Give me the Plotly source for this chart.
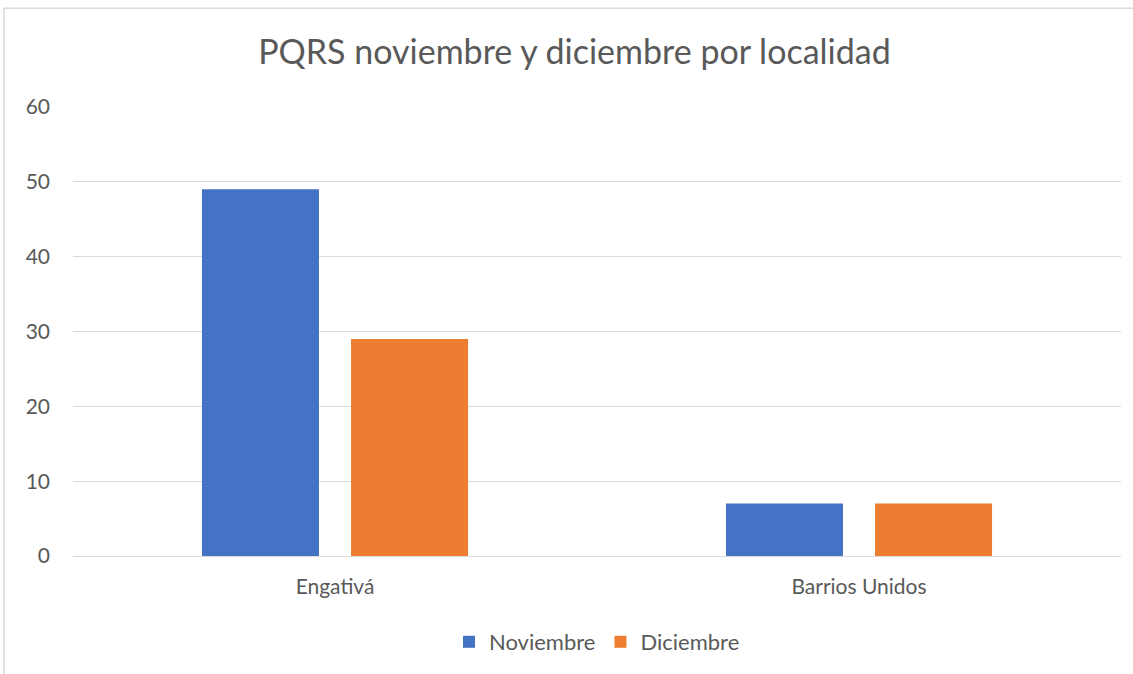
import plotly.graph_objects as go

# data
localidades = ["Engativá", "Barrios Unidos"]
noviembre = [49, 7]
diciembre = [29, 7]
y_ticks = [0, 10, 20, 30, 40, 50, 60]

BLUE = "#4472C4"
ORANGE = "#ED7D31"
TEXT = "#595959"
FONT = "Lato, Calibri, sans-serif"

W, H = 1133, 674
L, R, T, B = 73, 12, 107, 117
pw, ph = W - L - R, H - T - B

fig = go.Figure()
fig.add_trace(go.Bar(x=localidades, y=noviembre, name="Noviembre",
                     marker=dict(color=BLUE, line_width=0)))
fig.add_trace(go.Bar(x=localidades, y=diciembre, name="Diciembre",
                     marker=dict(color=ORANGE, line_width=0)))

# light frame around the chart area (left and top edges visible)
fig.add_shape(type="rect", xref="paper", yref="paper",
              x0=(4 - L) / pw, x1=(1160 - L) / pw,
              y0=-2, y1=(H - B - 8) / ph,
              line=dict(color="#D9D9D9", width=1.5), layer="below")

fig.update_layout(
    width=W, height=H,
    margin=dict(l=L, r=R, t=T, b=B),
    paper_bgcolor="white", plot_bgcolor="white",
    font=dict(family=FONT, size=21, color=TEXT),
    title=dict(text="PQRS noviembre y diciembre por localidad",
               x=0.507, xanchor="center", y=1 - 52 / H, yanchor="middle",
               font=dict(size=34, color=TEXT)),
    barmode="group", bargap=0.431, bargroupgap=0.215,
    showlegend=True,
    legend=dict(orientation="h", x=0.5, xanchor="center",
                y=-(642 - (H - B)) / ph, yanchor="middle",
                font=dict(size=22, color=TEXT), itemwidth=30),
)
fig.update_xaxes(showgrid=False, showline=False, ticks="",
                 ticklabelstandoff=16,
                 tickfont=dict(size=21, color=TEXT))
fig.update_yaxes(range=[0, 60], tickvals=y_ticks, showgrid=True,
                 gridcolor="#D9D9D9", gridwidth=1.3, zeroline=True,
                 zerolinecolor="#D9D9D9", zerolinewidth=1.3,
                 ticks="", ticklabelstandoff=22,
                 tickfont=dict(size=21, color=TEXT))

fig.write_html("out.html", config={"displayModeBar": False},
               post_script="document.body.style.margin='0px';")
